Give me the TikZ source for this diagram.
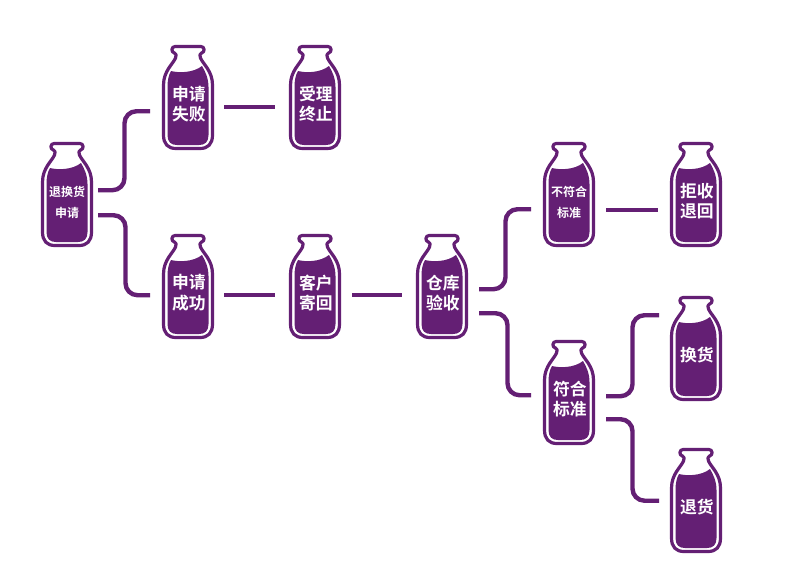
\documentclass[tikz,border=0pt]{standalone}
\usepackage{fontspec}
\setmainfont{Noto Sans CJK SC}[BoldFont={Noto Sans CJK SC Bold}]
\usetikzlibrary{calc}
\definecolor{grape}{HTML}{641F74}
\tikzset{
  x=1pt,y=-1pt,
  link/.style={draw=grape,line width=4.4pt,rounded corners=12pt},
  bottlelabel/.style={text=white,font=\bfseries\fontsize{16.8}{20.5}\selectfont,align=center,inner sep=0pt,yshift=-6.2pt,xshift=.8pt},
  smalllabel/.style={text=white,font=\bfseries\fontsize{12}{20.5}\selectfont,align=center,inner sep=0pt,yshift=-7.5pt},
  holder/.style={minimum width=52pt,minimum height=105pt,inner sep=0pt,anchor=north},
}
\newcommand{\milk}[5]{%
  % name, cx, top, style, text
  \begin{scope}[shift={(#2,#3)}]
    \draw[grape,line width=3.2pt,line join=round,fill=white]
      (-13,1.5) -- (13,1.5) .. controls (17,1.5) and (17,7.5) .. (13.5,8)
      .. controls (11.5,8.5) and (11.5,11) .. (12.5,13)
      .. controls (15,19) and (24.5,26) .. (24.5,40)
      -- (24.5,90) .. controls (24.5,99) and (20,103.5) .. (12,103.5)
      -- (-12,103.5) .. controls (-20,103.5) and (-24.5,99) .. (-24.5,90)
      -- (-24.5,40) .. controls (-24.5,26) and (-15,19) .. (-12.5,13)
      .. controls (-11.5,11) and (-11.5,8.5) .. (-13.5,8)
      .. controls (-17,7.5) and (-17,1.5) .. (-13,1.5) -- cycle;
    \fill[grape]
      (-17,26) .. controls (-9,28) and (5,28) .. (14,21)
      .. controls (17,26) and (20.5,33) .. (20.5,42)
      -- (20.5,90) .. controls (20.5,97) and (17,100) .. (11,100)
      -- (-11,100) .. controls (-17,100) and (-20.5,97) .. (-20.5,90)
      -- (-20.5,42) .. controls (-20.5,36) and (-19.5,30) .. (-17,26) -- cycle;
  \end{scope}
  \node[holder] (#1) at (#2,#3) {};
  \node[#4] (#1-text) at (#1.center) {#5};
}
\begin{document}
\begin{tikzpicture}
\useasboundingbox (0,0) rectangle (800,582);
\fill[white] (0,0) rectangle (800,582);
\milk{ret}{67}{142}{smalllabel}{退换货\\申请}
\milk{fail}{188}{45}{bottlelabel}{申请\\失败}
\milk{stop}{315}{45}{bottlelabel}{受理\\终止}
\milk{ok}{188}{234}{bottlelabel}{申请\\成功}
\milk{mail}{315}{234}{bottlelabel}{客户\\寄回}
\milk{check}{442}{234}{bottlelabel}{仓库\\验收}
\milk{bad}{569}{142}{smalllabel}{不符合\\标准}
\milk{rej}{696}{142}{bottlelabel}{拒收\\退回}
\milk{good}{569}{340}{bottlelabel}{符合\\标准}
\milk{swap}{696}{296}{bottlelabel}{换货}
\milk{back}{696}{448}{bottlelabel}{退货}

\draw[link] ($(ret.center)+(31,-4.5)$) -| ($(ret.center)!0.5!(fail.center)+(-3,0)$) |- ($(fail.center)+(-38,13.5)$);
\draw[link] ($(ret.center)+(31,20.5)$) -| ($(ret.center)!0.5!(ok.center)+(-2,0)$) |- ($(ok.center)+(-38,8.5)$);
\draw[link] ($(fail.center)+(36,9.5)$) -- ($(stop.center)+(-40,9.5)$);
\draw[link] ($(ok.center)+(36,8.5)$) -- ($(mail.center)+(-40,8.5)$);
\draw[link] ($(mail.center)+(37,8.5)$) -- ($(check.center)+(-40,8.5)$);
\draw[link] ($(check.center)+(37,2.5)$) -| ($(check.center)!0.5!(bad.center)+(0,0)$) |- ($(bad.center)+(-38,14.5)$);
\draw[link] ($(check.center)+(37,26.5)$) -| ($(check.center)!0.5!(good.center)+(2,0)$) |- ($(good.center)+(-38,2.5)$);
\draw[link] ($(bad.center)+(37,15)$) -- ($(rej.center)+(-38,15)$);
\draw[link] ($(good.center)+(37,3.5)$) -| ($(good.center)!0.5!(swap.center)+(0,0)$) |- ($(swap.center)+(-37,-33.5)$);
\draw[link] ($(good.center)+(37,26.5)$) -| ($(good.center)!0.5!(back.center)+(0,0)$) |- ($(back.center)+(-37,0)$);
\end{tikzpicture}
\end{document}
